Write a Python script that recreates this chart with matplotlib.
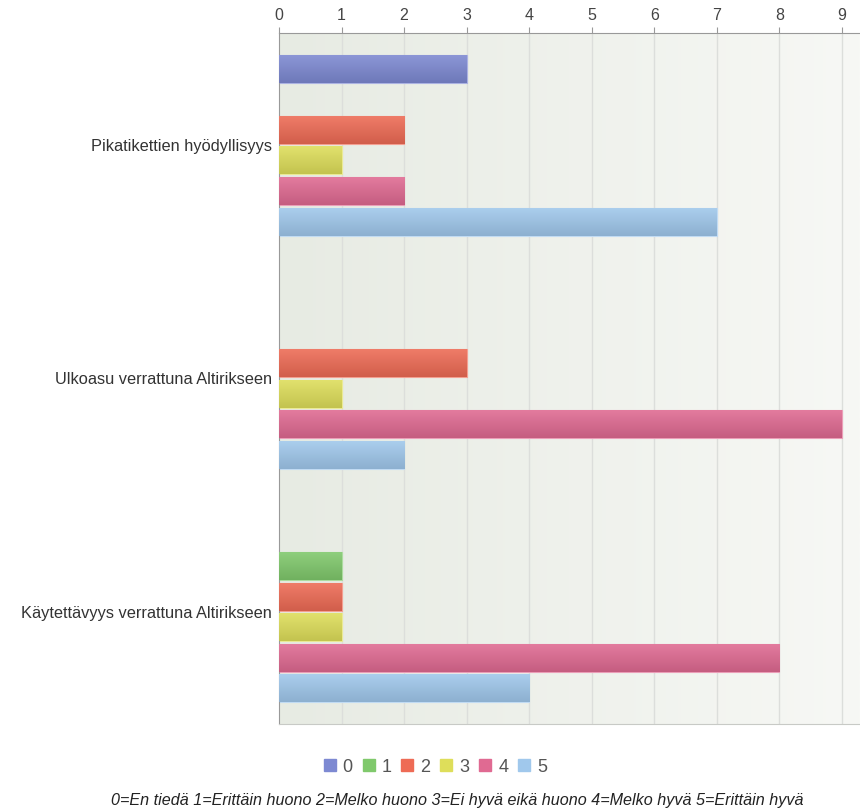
import matplotlib
matplotlib.use("Agg")
import matplotlib.pyplot as plt
import numpy as np
from matplotlib.colors import to_rgb, LinearSegmentedColormap
from matplotlib.lines import Line2D

plt.rcParams['font.family'] = ['Liberation Sans', 'DejaVu Sans']

questions = ["Pikatikettien hyödyllisyys",
             "Ulkoasu verrattuna Altirikseen",
             "Käytettävyys verrattuna Altirikseen"]
grades = ["0", "1", "2", "3", "4", "5"]
# answer counts per grade, one list per question
counts = [
    [3, 0, 2, 1, 2, 7],
    [0, 0, 3, 1, 9, 2],
    [0, 1, 1, 1, 8, 4],
]
colors = ["#7d89d2", "#80c96c", "#ee6b55", "#dede5a", "#e06a92", "#a0c8ec"]
footnote = ("0=En tiedä 1=Erittäin huono 2=Melko huono 3=Ei hyvä eikä huono "
            "4=Melko hyvä 5=Erittäin hyvä")

fig = plt.figure(figsize=(8.6, 8.08), dpi=100)
ax = fig.add_axes([279 / 860, 1 - 724 / 808, 1 - 279 / 860, (724 - 33) / 808])

xmax = 9.29
ax.set_xlim(0, xmax)
ax.set_ylim(2.48, -0.48)

# soft left-to-right background gradient
bg = np.linspace(0, 1, 256).reshape(1, -1)
ax.imshow(bg, extent=(0, xmax, 2.48, -0.48), aspect='auto', zorder=0,
          cmap=LinearSegmentedColormap.from_list("bg", ["#e7ebe3", "#f7f8f5"]))

for x in range(1, 10):
    ax.axvline(x, color="#dcdedb", lw=1, zorder=1)

slot = 0.131
bar_h = 0.12
n = len(grades)


def shade(c, f):
    r = np.array(to_rgb(c))
    if f > 0:
        return r + (1 - r) * f
    return r * (1 + f)


for qi, row in enumerate(counts):
    for gi, val in enumerate(row):
        if val == 0:
            continue
        yc = qi + (gi - (n - 1) / 2) * slot
        patch = ax.barh(yc, val, height=bar_h, color=colors[gi],
                        edgecolor=shade(colors[gi], 0.35), lw=0.8, zorder=2)[0]
        top = shade(colors[gi], 0.12)
        bot = shade(colors[gi], -0.12)
        grad = np.linspace(0, 1, 64).reshape(-1, 1)
        cm = LinearSegmentedColormap.from_list("g", [top, bot])
        im = ax.imshow(grad, extent=(0, val, yc + bar_h / 2, yc - bar_h / 2),
                       aspect='auto', cmap=cm, zorder=3)
        im.set_clip_path(patch)

ax.set_yticks(range(len(questions)))
ax.set_yticklabels(questions, fontsize=11.8, color="#333333")
ax.tick_params(axis='y', length=0, pad=5)

ax.xaxis.tick_top()
ax.set_xticks(range(10))
ax.tick_params(axis='x', direction='out', length=4, color="#999999",
               labelsize=11.5, labelcolor="#444444", pad=3)

ax.spines["right"].set_visible(False)
for side in ["top", "left"]:
    ax.spines[side].set_color("#999999")
ax.spines["bottom"].set_color("#c8cac6")

handles = [Line2D([], [], marker='s', ls='', color=c, markersize=8) for c in colors]
fig.legend(handles, grades, loc='center', bbox_to_anchor=(435 / 860, 1 - 767 / 808),
           ncol=6, frameon=False, fontsize=13, handlelength=0.75,
           handletextpad=0.35, columnspacing=0.5, labelcolor="#555555",
           borderpad=0, borderaxespad=0)

fig.text(457 / 860, 1 - 800 / 808, footnote, ha='center', va='center',
         fontsize=11.6, style='italic', color="#222222")

fig.savefig("out.png", dpi=100)
